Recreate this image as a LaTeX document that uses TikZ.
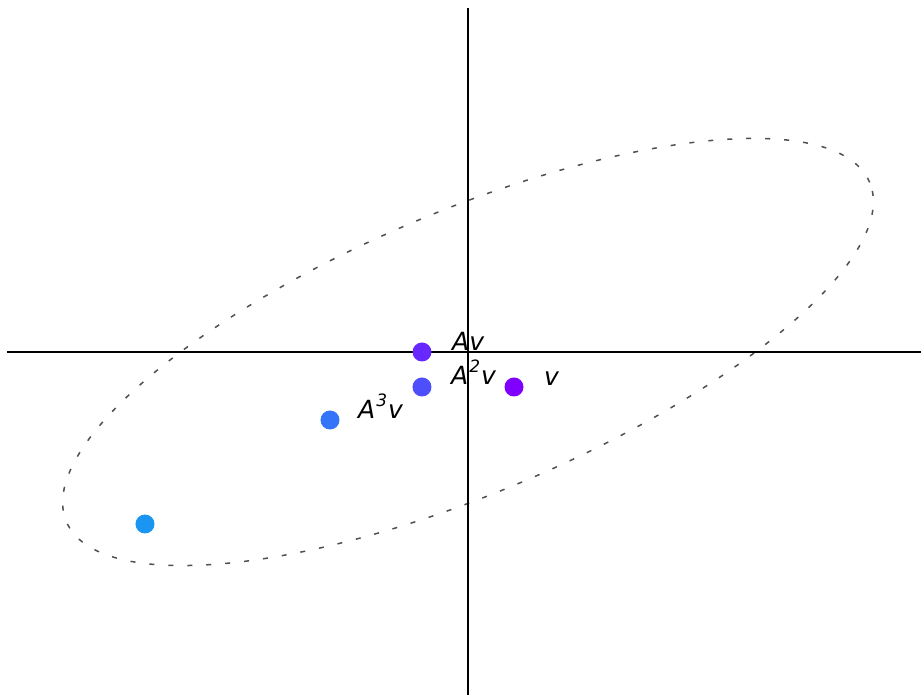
\documentclass[tikz,border=0pt]{standalone}
\usepackage{fontspec}
\setmainfont{DejaVu Sans}
\newcommand{\mysup}[1]{\kern1pt\raisebox{12pt}{\fontsize{17}{17}\selectfont #1}\kern1pt}
\definecolor{c0}{RGB}{127,0,255}
\definecolor{c1}{RGB}{102,40,254}
\definecolor{c2}{RGB}{77,79,252}
\definecolor{c3}{RGB}{51,116,248}
\definecolor{c4}{RGB}{26,150,242}
\definecolor{ellgray}{RGB}{80,80,80}
\tikzset{
  dotpt/.style={circle, inner sep=0pt, minimum size=19pt, draw=none},
  lbl/.style={anchor=base west, inner sep=0pt, font=\fontsize{25}{25}\selectfont\itshape},
  axisline/.style={line width=1.5pt, black},
  ell/.style={ellgray, line width=1.5pt, dash pattern=on 5pt off 14pt}
}
\begin{document}
\begin{tikzpicture}[x=1pt,y=1pt]
\useasboundingbox (-468,-343) rectangle (453,352);
\coordinate (xl) at (-461,0);
\coordinate (xr) at (453,0);
\coordinate (yt) at (0,344);
\coordinate (yb) at (0,-343);
\draw[ell, rotate=22.9] (0,0) ellipse [x radius=436, y radius=140.8];
\draw[axisline] (xl) -- (xr);
\draw[axisline] (yt) -- (yb);
\node[dotpt, fill=c0] (v) at (46,-35) {};
\node[dotpt, fill=c1] (av) at (-46,0) {};
\node[dotpt, fill=c2] (a2v) at (-46,-35) {};
\node[dotpt, fill=c3] (a3v) at (-138,-68) {};
\node[dotpt, fill=c4] (a4v) at (-323,-172) {};
\node[lbl] (lv) at ([xshift=30pt,yshift=1pt]v.center) {v};
\node[lbl] (lav) at ([xshift=30pt,yshift=1pt]av.center) {Av};
\node[lbl] (la2v) at ([xshift=29pt,yshift=2pt]a2v.center) {A\mysup{2}v};
\node[lbl] (la3v) at ([xshift=28pt,yshift=1pt]a3v.center) {A\mysup{3}v};
\end{tikzpicture}
\end{document}
